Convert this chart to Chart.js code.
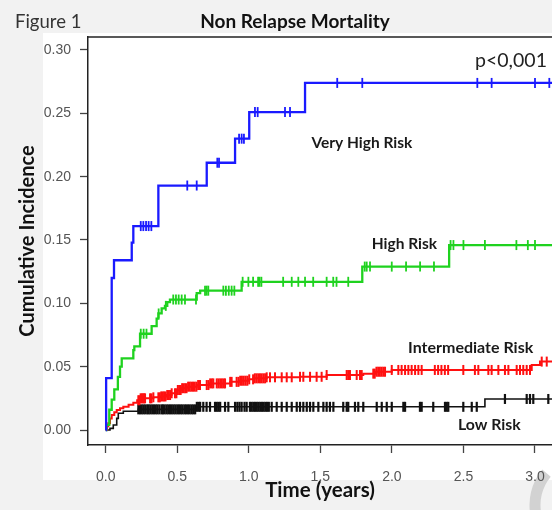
<!DOCTYPE html>
<html><head><meta charset="utf-8">
<script src="https://cdn.jsdelivr.net/npm/chart.js@4.4.1/dist/chart.umd.min.js"></script>
<style>html,body{margin:0;padding:0;background:#f2f2f2;overflow:hidden}canvas{display:block}</style>
</head><body>
<canvas id="c" width="552" height="510"></canvas>
<script>
// ---------- DATA ----------
const xTickValues = [0, 0.5, 1.0, 1.5, 2.0, 2.5, 3.0];
const yTickValues = [0, 0.05, 0.10, 0.15, 0.20, 0.25, 0.30];
const seriesNames = ['Very High Risk', 'High Risk', 'Intermediate Risk', 'Low Risk'];
const pValueText = 'p<0,001';

// Very High Risk
const vhrTime = [0, 0.003, 0.042, 0.058, 0.182, 0.193, 0.368, 0.706, 0.904, 1.003, 1.393, 3.2];
const vhrCI   = [0, 0.041, 0.120, 0.134, 0.148, 0.161, 0.193, 0.211, 0.230, 0.251, 0.274, 0.274];
const vhrCensor = [0.245, 0.263, 0.282, 0.300, 0.319, 0.57, 0.636, 0.78, 0.792, 0.932, 0.95, 0.966,
  1.043, 1.062, 1.253, 1.288, 1.618, 1.793, 2.597, 2.697, 3.0, 3.1];

// High Risk
const hrTime = [0, 0.005, 0.025, 0.042, 0.06, 0.085, 0.1, 0.112, 0.193, 0.2, 0.24, 0.321, 0.356, 0.368,
  0.391, 0.414, 0.43, 0.449, 0.636, 0.66, 0.95, 1.793, 2.4, 3.2];
const hrCI = [0, 0.004, 0.016, 0.024, 0.032, 0.042, 0.05, 0.0566, 0.063, 0.066, 0.076, 0.082, 0.088, 0.092,
  0.096, 0.098, 0.101, 0.103, 0.108, 0.110, 0.117, 0.129, 0.146, 0.146];
const hrCensor = [0.245, 0.265, 0.285, 0.37, 0.42, 0.472, 0.491, 0.51, 0.531, 0.554, 0.631, 0.694, 0.705,
  0.717, 0.822, 0.84, 0.86, 0.88, 0.899, 0.957, 0.997, 1.03, 1.065, 1.075, 1.088, 1.24, 1.30, 1.346,
  1.393, 1.45, 1.544, 1.59, 1.613, 1.695, 1.81, 1.824, 1.847, 1.999, 2.099, 2.197, 2.294, 2.41, 2.43,
  2.5, 2.65, 2.87, 2.95, 3.0];

// Intermediate Risk
const irTime = [0, 0.01, 0.018, 0.03, 0.042, 0.06, 0.077, 0.1, 0.123, 0.16, 0.193, 0.22, 0.24, 0.333,
  0.38, 0.426, 0.46, 0.496, 0.53, 0.566, 0.636, 0.729, 0.87, 0.939, 1.0, 1.031, 1.125, 1.358, 1.544,
  1.8, 1.882, 1.999, 2.977, 3.035, 3.2];
const irCI = [0, 0.003, 0.0053, 0.009, 0.0118, 0.014, 0.0158, 0.0172, 0.0184, 0.020, 0.0216, 0.0235,
  0.025, 0.0258, 0.0265, 0.0276, 0.029, 0.0316, 0.033, 0.0342, 0.0355, 0.0368, 0.038, 0.0389, 0.040,
  0.0408, 0.0416, 0.042, 0.0434, 0.0445, 0.046, 0.0474, 0.0513, 0.054, 0.054];
const irCensor = [0.228, 0.236, 0.244, 0.252, 0.26, 0.268, 0.275, 0.31, 0.32, 0.333, 0.368, 0.378,
  0.388, 0.398, 0.408, 0.418, 0.43, 0.44, 0.45, 0.461, 0.484, 0.494, 0.504, 0.514, 0.524, 0.534, 0.544,
  0.555, 0.565, 0.576, 0.587, 0.598, 0.61, 0.622, 0.634, 0.646, 0.659, 0.706, 0.718, 0.73, 0.742, 0.752,
  0.776, 0.788, 0.80, 0.812, 0.824, 0.834, 0.87, 0.88, 0.915, 0.928, 0.94, 0.952, 0.965, 0.978, 0.99,
  1.003, 1.03, 1.042, 1.054, 1.066, 1.078, 1.09, 1.102, 1.114, 1.125, 1.148, 1.183, 1.23, 1.265, 1.3,
  1.358, 1.381, 1.428, 1.474, 1.509, 1.544, 1.684, 1.695, 1.707, 1.754, 1.777, 1.789, 1.87, 1.88,
  1.892, 1.904, 1.916, 1.928, 1.94, 1.952, 1.999, 2.045, 2.068, 2.092, 2.115, 2.138, 2.162, 2.185,
  2.208, 2.30, 2.323, 2.346, 2.37, 2.393, 2.499, 2.58, 2.604, 2.674, 2.697, 2.744, 2.79, 2.814, 2.872,
  2.895, 2.918, 2.942, 2.965, 3.047, 3.082];

// Low Risk
const lrTime = [0, 0.03, 0.053, 0.077, 0.088, 0.123, 0.228, 0.636, 2.65, 3.2];
const lrCI   = [0, 0.0013, 0.004, 0.0092, 0.0132, 0.0148, 0.0163, 0.0183, 0.0245, 0.0245];
const lrCensor = [0.228, 0.24, 0.252, 0.264, 0.276, 0.29, 0.30, 0.312, 0.325, 0.337, 0.35, 0.362,
  0.375, 0.39, 0.40, 0.412, 0.425, 0.437, 0.45, 0.462, 0.475, 0.487, 0.50, 0.512, 0.525, 0.537, 0.55,
  0.562, 0.575, 0.587, 0.60, 0.612, 0.625, 0.637, 0.65, 0.66, 0.682, 0.705, 0.729, 0.764, 0.776, 0.788,
  0.80, 0.834, 0.857, 0.904, 0.92, 0.935, 0.95, 0.97, 0.985, 1.008, 1.02, 1.032, 1.044, 1.056, 1.068,
  1.08, 1.092, 1.104, 1.116, 1.128, 1.14, 1.16, 1.195, 1.23, 1.265, 1.30, 1.335, 1.358, 1.381, 1.405,
  1.428, 1.451, 1.486, 1.521, 1.544, 1.567, 1.591, 1.66, 1.684, 1.695, 1.742, 1.765, 1.80, 1.894,
  1.929, 1.964, 1.999, 2.08, 2.092, 2.196, 2.208, 2.289, 2.371, 2.383, 2.394, 2.499, 2.558, 2.593,
  2.79, 2.942, 2.965, 2.988, 3.093];

// ---------- BUILD ----------
function curvePoints(times, values) {
  return times.map((t, i) => ({x: t, y: values[i]}));
}
function stepAt(times, values, t) {
  let v = values[0];
  for (let i = 0; i < times.length; i++) { if (times[i] <= t) v = values[i]; else break; }
  return v;
}
function censorPoints(cens, times, values) {
  return cens.map(t => ({x: t, y: stepAt(times, values, t)}));
}

const styles = [
  {color: '#1a1aff', width: 2.3, mark: 1.8},
  {color: '#1fd21f', width: 2.3, mark: 1.8},
  {color: '#ff1010', width: 2, mark: 2},
  {color: '#111111', width: 1.6, mark: 2.2}
];
const sets = [
  [vhrTime, vhrCI, vhrCensor],
  [hrTime, hrCI, hrCensor],
  [irTime, irCI, irCensor],
  [lrTime, lrCI, lrCensor]
];
const datasets = [];
sets.forEach((s, i) => {
  const st = styles[i];
  datasets.push({
    label: seriesNames[i],
    data: curvePoints(s[0], s[1]),
    stepped: 'before',
    borderColor: st.color,
    borderWidth: st.width,
    pointRadius: 0,
    fill: false
  });
  datasets.push({
    label: seriesNames[i] + ' censored',
    data: censorPoints(s[2], s[0], s[1]),
    showLine: false,
    pointStyle: 'line',
    rotation: 90,
    pointRadius: 5,
    pointBorderColor: st.color,
    pointBorderWidth: st.mark,
    borderColor: st.color
  });
});

const bgPlugin = {
  id: 'bg',
  beforeDraw(chart) {
    const c = chart.ctx;
    c.save();
    c.fillStyle = '#f2f2f2';
    c.fillRect(0, 0, chart.width, chart.height);
    c.fillStyle = '#ffffff';
    c.fillRect(43, 33, chart.width - 43, 447);
    c.strokeStyle = '#d2d2d2';
    c.lineWidth = 11;
    c.beginPath();
    c.arc(585, 505, 50, Math.PI * 0.93, Math.PI * 1.22);
    c.stroke();
    c.restore();
  },
  afterDraw(chart) {
    const c = chart.ctx;
    const a = chart.chartArea;
    const xs = chart.scales.x, ys = chart.scales.y;
    c.save();
    c.strokeStyle = '#222';
    c.lineWidth = 1.5;
    c.beginPath();
    c.moveTo(a.left - 0.75, a.top);
    c.lineTo(a.right, a.top);
    c.stroke();
    c.fillStyle = '#333';
    c.textBaseline = 'alphabetic';
    c.font = '18.5px Lato';
    c.textAlign = 'left';
    c.fillText('Figure 1', 15, 28);
    c.fillStyle = '#111';
    c.font = 'bold 19px Lato';
    c.textAlign = 'center';
    c.fillText('Non Relapse Mortality', 295, 28);
    const notes = [
      {text: seriesNames[0], t: 1.438, v: 0.2226, bold: true, size: 15.5},
      {text: seriesNames[1], t: 1.859, v: 0.1427, bold: true, size: 15.5},
      {text: seriesNames[2], t: 2.113, v: 0.0606, bold: true, size: 16},
      {text: seriesNames[3], t: 2.462, v: 0.0, bold: true, size: 15.8},
      {text: pValueText, t: 2.581, v: 0.2868, bold: false, size: 19.5}
    ];
    c.textAlign = 'left';
    notes.forEach(n => {
      c.font = (n.bold ? 'bold ' : '') + n.size + 'px Lato';
      c.fillStyle = n.bold ? '#1a1a1a' : '#222';
      c.fillText(n.text, xs.getPixelForValue(n.t), ys.getPixelForValue(n.v));
    });
    c.restore();
  }
};

new Chart(document.getElementById('c'), {
  type: 'line',
  data: {datasets},
  options: {
    responsive: false,
    animation: false,
    devicePixelRatio: 1,
    layout: {autoPadding: false, padding: {left: 0, right: 0, top: 37, bottom: 0}},
    plugins: {legend: {display: false}, tooltip: {enabled: false}, title: {display: false}},
    elements: {line: {tension: 0}},
    scales: {
      x: {
        type: 'linear',
        min: -0.1237, max: 3.1188,
        afterBuildTicks: s => { s.ticks = xTickValues.map(v => ({value: v})); },
        afterFit: s => { s.height = 65; s.paddingLeft = 0; s.paddingRight = 0; },
        grid: {drawOnChartArea: false, drawTicks: true, tickLength: 8, tickColor: '#444', tickWidth: 1.3},
        border: {display: true, color: '#222', width: 1.5},
        ticks: {
          font: {family: 'Liberation Sans', size: 14},
          color: '#555', padding: 16, maxRotation: 0, autoSkip: false,
          callback: v => Number(v).toFixed(1)
        },
        title: {display: true, text: 'Time (years)', color: '#111',
          font: {family: 'Lato', weight: 'bold', size: 20.5}, padding: {top: 0, bottom: 7}}
      },
      y: {
        type: 'linear',
        min: -0.01184, max: 0.31026,
        afterBuildTicks: s => { s.ticks = yTickValues.map(v => ({value: v})); },
        afterFit: s => { s.width = 88; s.paddingTop = 0; s.paddingBottom = 0; },
        grid: {drawOnChartArea: false, drawTicks: true, tickLength: 8, tickColor: '#444', tickWidth: 1.3},
        border: {display: true, color: '#222', width: 1.5},
        ticks: {
          font: {family: 'Liberation Sans', size: 14},
          color: '#555', padding: 9, autoSkip: false,
          callback: v => Number(v).toFixed(2)
        },
        title: {display: true, text: 'Cumulative Incidence', color: '#111',
          font: {family: 'Lato', weight: 'bold', size: 20}, padding: {top: 16, bottom: 0}}
      }
    }
  },
  plugins: [bgPlugin]
});
</script>
</body></html>
